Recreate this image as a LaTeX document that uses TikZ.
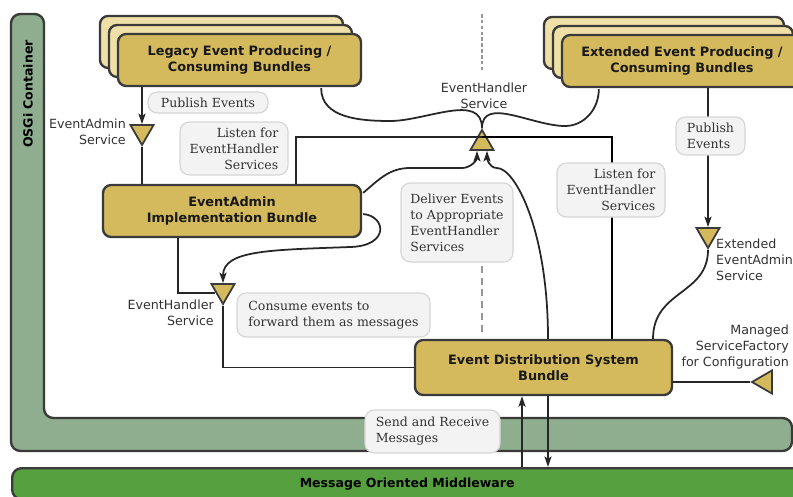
\documentclass[tikz,border=0pt]{standalone}
\usepackage{fontspec}
\setmainfont{DejaVu Serif}
\setsansfont{DejaVu Sans}
\usepackage{tikz}
\usetikzlibrary{arrows.meta,shapes.geometric,shadows,calc,positioning}
\definecolor{bundlegold}{RGB}{212,186,92}
\definecolor{bundlepale}{RGB}{238,224,166}
\definecolor{osgigreen}{RGB}{143,173,143}
\definecolor{momgreen}{RGB}{86,160,64}
\definecolor{edgedark}{RGB}{58,58,58}
\definecolor{notefill}{RGB}{243,243,243}
\definecolor{noteline}{RGB}{214,214,214}
\definecolor{labelgray}{RGB}{50,50,50}
\definecolor{guidegray}{RGB}{150,150,150}

\tikzset{
  bundle/.style={draw=edgedark, line width=2pt, fill=bundlegold, rounded corners=7pt,
    inner sep=0pt, align=center, text=black!90,
    font=\sffamily\bfseries\fontsize{11}{13.7}\selectfont},
  stacked/.style={
    general shadow={shadow xshift=-15.4pt, shadow yshift=15.4pt, fill=bundlepale, draw=edgedark, line width=2pt},
    general shadow={shadow xshift=-7.7pt, shadow yshift=7.7pt, fill=bundlepale, draw=edgedark, line width=2pt}},
  svc/.style={regular polygon, regular polygon sides=3, minimum size=0.8cm, inner sep=0pt,
    draw=edgedark, line width=1.5pt, fill=bundlegold},
  svclabel/.style={font=\sffamily\fontsize{10.8}{13.7}\selectfont, text=labelgray, inner sep=0pt},
  note/.style={draw=noteline, fill=notefill, line width=1pt, rounded corners=8pt, inner sep=0pt,
    text=labelgray, font=\fontsize{10.7}{13.7}\selectfont},
  conn/.style={draw=black!85, line width=1.5pt},
  flow/.style={-{Stealth[length=9pt,width=6pt,inset=2pt]}},
  guide/.style={draw=guidegray, line width=1.2pt, dash pattern=on 3pt off 2pt}
}

\begin{document}
\begin{tikzpicture}[x=0.03cm, y=-0.03cm]
  \useasboundingbox (0,0) rectangle (793,496);
  \clip (0,0) rectangle (793,496);

  % OSGi container frame
  \draw[draw=edgedark, line width=2pt, fill=osgigreen, rounded corners=8pt]
    (11,14) -- (44,14) -- (44,418) -- (792,418) -- (792,451) -- (11,451) -- cycle;
  \node[rotate=90, inner sep=0pt, font=\sffamily\bfseries\fontsize{10.7}{13}\selectfont] (osgi) at (28,94) {OSGi Container};

  % Message bus
  \node[draw=edgedark, line width=2pt, fill=momgreen, rounded corners=8pt, inner sep=0pt,
    minimum width=23.7cm, minimum height=0.93cm, anchor=north west,
    font=\sffamily\bfseries\fontsize{10.7}{13}\selectfont] (mom) at (11,467) {Message Oriented Middleware};

  % Service triangles (placed early so wires can use them)
  \path
    node[svc, shape border rotate=180] (easvc) at (142,131.7) {}
    node[svc] (ehtop) at (482,143.3) {}
    node[svc, shape border rotate=180] (extsvc) at (708,234.7) {}
    node[svc, shape border rotate=180] (ehsvc) at (223,290.7) {}
    node[svc, shape border rotate=90] (msf) at (765.3,382) {};

  % Bundles
  \node[bundle, stacked, minimum width=7.29cm, minimum height=1.56cm] (legacy) at (239.5,60) {Legacy Event Producing /\\Consuming Bundles};
  \node[bundle, stacked, minimum width=7.2cm, minimum height=1.56cm] (extended) at (682,61) {Extended Event Producing /\\Consuming Bundles};
  \node[bundle, minimum width=7.74cm, minimum height=1.56cm] (eaimpl) at (232,211) {EventAdmin\\Implementation Bundle};
  \node[bundle, minimum width=7.71cm, minimum height=1.65cm] (eds) at (543.5,367.5) {Event Distribution System\\Bundle};

  % Publish and listen wiring
  \coordinate (busL) at (296,137);
  \coordinate (busR) at (612,137);
  \draw[conn, flow] (legacy.south -| easvc) -- (easvc.90);
  \draw[conn] (easvc.270) -- (easvc |- eaimpl.north);
  \draw[conn] (eaimpl.north -| busL) -- (busL) -- (ehtop |- busL);
  \draw[conn, line width=2pt, draw=black] (ehtop |- busR) -- (busR) -- (eds.north -| busR);
  \draw[conn] ($(legacy.south east)+(-41,1)$) to[out=-90,in=180] (390,121) to[out=0,in=90] (ehtop.90);
  \draw[conn] ($(extended.south west)+(38,1)$) to[out=-90,in=0] (565,126) to[out=180,in=90] (ehtop.90);

  % Deliver events
  \draw[conn, flow] ($(eaimpl.north east)+(1,9)$) to[out=40,in=180] (410,168) -- (462,168) to[out=0,in=-90] ($(ehtop.270)+(-5,0)$);
  \draw[conn, flow] ($(eds.north)+(4.5,0)$) .. controls (548,230) and (515,168) .. (497,168) to[out=180,in=-90] ($(ehtop.270)+(5,0)$);

  % EventHandler towards the distribution bundle
  \draw[conn] (eaimpl.south -| 178,0) |- (ehsvc.195);
  \draw[conn] (ehsvc.270) |- (eds.west);
  \draw[conn, flow] ($(eaimpl.east)+(1,3)$) .. controls (386,216) and (390,246) .. (350,247) .. controls (270,250) and (223,250) .. (ehsvc.90);

  % Extended side
  \draw[conn, flow] (extended.south -| extsvc) -- (extsvc.90);
  \draw[conn] (extsvc.270) .. controls (708,295) and (653,290) .. (eds.north -| 653,0);
  \draw[conn] (eds.east |- msf) -- (msf.180);

  % To and from the bus
  \draw[conn, flow] (mom.north -| 522,0) -- (eds.south -| 522,0);
  \draw[conn, flow] (eds.south -| 548,0) -- (mom.north -| 548,0);

  % Dashed guides
  \draw[guide] (482,14) -- (482,72);
  \draw[guide, line width=2.4pt, dash pattern=on 6pt off 4pt] (482,266) -- (482,334);

  % Notes
  \node[note, minimum width=3.6cm, minimum height=0.63cm] (pubLegacy) at (208,102.5) {Publish Events};
  \node[note, align=right, minimum width=3.24cm, minimum height=1.59cm] (listenL) at (234,148.5) {Listen for\\EventHandler\\Services};
  \node[note, align=left, minimum width=3.36cm, minimum height=2.37cm] (deliver) at (457,222.5) {Deliver Events\\to Appropriate\\EventHandler\\Services};
  \node[note, align=right, minimum width=3.24cm, minimum height=1.62cm] (listenR) at (611,190) {Listen for\\EventHandler\\Services};
  \node[note, align=left, minimum width=2.07cm, minimum height=1.14cm] (pubExt) at (710.5,136) {Publish\\Events};
  \node[note, align=left, minimum width=5.79cm, minimum height=1.32cm] (consume) at (333.5,315) {Consume events to\\forward them as messages};
  \node[note, align=left, minimum width=4.05cm, minimum height=1.29cm] (sendRecv) at (432.5,431.5) {Send and Receive\\Messages};

  % Service labels
  \node[svclabel, anchor=east, align=right] (easvclbl) at (126,132) {EventAdmin\\Service};
  \node[svclabel, align=center] (ehtoplbl) at (484,96) {EventHandler\\Service};
  \node[svclabel, anchor=west, align=left] (extsvclbl) at (716,260) {Extended\\EventAdmin\\Service};
  \node[svclabel, anchor=east, align=right] (ehsvclbl) at (214,313) {EventHandler\\Service};
  \node[svclabel, anchor=east, align=right] (msflbl) at (789,347) {Managed\\ServiceFactory\\for Configuration};
\end{tikzpicture}
\end{document}
